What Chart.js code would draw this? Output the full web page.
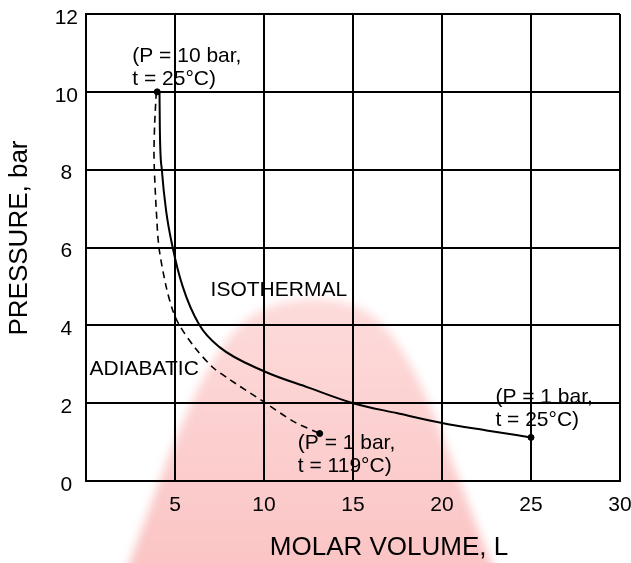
<!DOCTYPE html>
<html>
<head>
<meta charset="utf-8">
<script src="https://cdn.jsdelivr.net/npm/chart.js@4"></script>
<style>
  body { margin: 0; background: #fff; }
  canvas { display: block; }
</style>
</head>
<body>
<canvas id="pvChart" width="631" height="563"></canvas>
<script>
// molar volume (L) / pressure (bar)
const isoVolume = [4.13, 4.15, 4.26, 4.5, 4.87, 5.43, 6.38, 7.5, 10, 12.5, 15, 17.5, 20, 22.5, 25];
const isoPressure = [10, 9, 8, 6.95, 6, 5, 4.0, 3.44, 2.82, 2.4, 2.0, 1.74, 1.49, 1.3, 1.12];

const adiVolume = [3.95, 3.86, 3.82, 3.84, 3.95, 4.1, 4.5, 4.87, 5.25, 6.1, 7.1, 8.0, 10.1, 11.7, 13.13];
const adiPressure = [10, 9.2, 8.5, 8, 6.95, 6, 5, 4.39, 4.0, 3.44, 2.93, 2.63, 2.0, 1.52, 1.22];

const stateVolume = [4.0, 13.13, 25];
const statePressure = [10, 1.22, 1.12];

const xTicks = [0, 5, 10, 15, 20, 25, 30];
const yTicks = [0, 2, 4, 6, 8, 10, 12];

// text notes: anchor in data units, left aligned
const notes = [
  { v: 2.6, p: 10.92, lines: ["(P = 10 bar,", "t = 25°C)"] },
  { v: 7.0, p: 4.9, lines: ["ISOTHERMAL"] },
  { v: 0.2, p: 2.87, lines: ["ADIABATIC"] },
  { v: 11.9, p: 0.97, lines: ["(P = 1 bar,", "t = 119°C)"] },
  { v: 23.0, p: 2.15, lines: ["(P = 1 bar,", "t = 25°C)"] }
];

const FONT = "'Liberation Sans', Arial, sans-serif";

function toPoints(xs, ys) {
  return xs.map((x, i) => ({ x: x, y: ys[i] }));
}

// pink blurred shape behind the grid
const backdrop = {
  id: "backdrop",
  beforeDraw(chart) {
    const ctx = chart.ctx;
    ctx.save();
    ctx.fillStyle = "#fff";
    ctx.fillRect(0, 0, chart.width, chart.height);
    const g = ctx.createLinearGradient(0, 300, 0, 563);
    g.addColorStop(0, "rgba(253,215,215,0.9)");
    g.addColorStop(1, "rgba(250,190,190,0.9)");
    ctx.fillStyle = g;
    ctx.filter = "blur(5px)";
    ctx.beginPath();
    ctx.moveTo(125, 575);
    ctx.bezierCurveTo(165, 470, 205, 335, 262, 310);
    ctx.bezierCurveTo(295, 294, 350, 294, 378, 320);
    ctx.bezierCurveTo(425, 365, 452, 470, 497, 575);
    ctx.closePath();
    ctx.fill();
    ctx.restore();
  }
};

const texts = {
  id: "texts",
  afterDatasetsDraw(chart) {
    const ctx = chart.ctx;
    const xs = chart.scales.x, ys = chart.scales.y;
    ctx.save();
    ctx.fillStyle = "#000";
    ctx.font = "21px " + FONT;
    ctx.textAlign = "left";
    ctx.textBaseline = "middle";
    notes.forEach(n => {
      const px = xs.getPixelForValue(n.v);
      const py = ys.getPixelForValue(n.p);
      n.lines.forEach((t, i) => ctx.fillText(t, px, py + i * 23));
    });

    // axis titles
    ctx.font = "26px " + FONT;
    ctx.textAlign = "center";
    ctx.fillText("MOLAR VOLUME, L", 389, 548);
    ctx.translate(20, 238);
    ctx.rotate(-Math.PI / 2);
    ctx.fillText("PRESSURE, bar", 0, 0);
    ctx.restore();
  }
};

new Chart(document.getElementById("pvChart"), {
  type: "line",
  data: {
    datasets: [
      {
        label: "Isothermal",
        data: toPoints(isoVolume, isoPressure),
        borderColor: "#000",
        borderWidth: 2,
        pointRadius: 0,
        cubicInterpolationMode: "monotone",
        fill: false
      },
      {
        label: "Adiabatic",
        data: toPoints(adiVolume, adiPressure),
        borderColor: "#000",
        borderWidth: 1.6,
        borderDash: [7, 5],
        pointRadius: 0,
        tension: 0.3,
        fill: false
      },
      {
        label: "States",
        data: toPoints(stateVolume, statePressure),
        showLine: false,
        pointRadius: 3,
        pointBackgroundColor: "#000",
        pointBorderColor: "#000"
      }
    ]
  },
  options: {
    responsive: false,
    animation: false,
    layout: { padding: { top: 14, right: 0, left: 0, bottom: 0 } },
    plugins: { legend: { display: false }, tooltip: { enabled: false } },
    scales: {
      x: {
        type: "linear",
        min: 0,
        max: 30,
        afterBuildTicks(scale) { scale.ticks = xTicks.map(v => ({ value: v })); },
        afterFit(scale) { scale.height = 82; scale.paddingRight = 11; },
        grid: { color: "#000", lineWidth: 2, drawTicks: false },
        border: { color: "#000", width: 2 },
        ticks: {
          color: "#000",
          font: { family: FONT, size: 21 },
          padding: 12,
          maxRotation: 0,
          callback: v => (v === 0 ? "" : v)
        }
      },
      y: {
        type: "linear",
        min: 0,
        max: 12,
        afterBuildTicks(scale) { scale.ticks = yTicks.map(v => ({ value: v })); },
        afterFit(scale) { scale.width = 86; scale.paddingTop = 0; scale.paddingBottom = 0; },
        grid: { color: "#000", lineWidth: 2, drawTicks: false },
        border: { color: "#000", width: 2 },
        ticks: {
          color: "#000",
          font: { family: FONT, size: 21 },
          padding: 8,
          labelOffset: 4,
          crossAlign: "center"
        }
      }
    }
  },
  plugins: [backdrop, texts]
});
</script>
</body>
</html>
